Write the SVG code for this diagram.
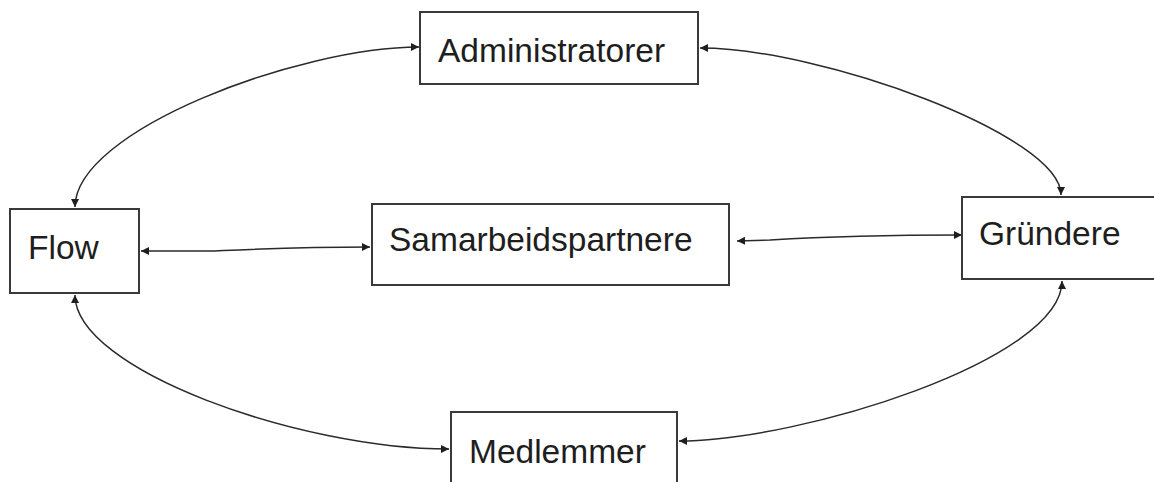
<svg xmlns="http://www.w3.org/2000/svg" width="1154" height="482" viewBox="0 0 1154 482">
<style>
.box{fill:#fff;stroke:#3a3a3a;stroke-width:2}
.lbl{font-family:"Liberation Sans",Arial,sans-serif;font-size:33.5px;fill:#1e1e1e}
.con{fill:none;stroke:#2a2a2a;stroke-width:1.5}
</style>
<defs>
<marker id="ah" viewBox="0 0 10 10" refX="10" refY="5" markerWidth="9" markerHeight="8" markerUnits="userSpaceOnUse" orient="auto-start-reverse">
<path d="M0,0 L10,5 L0,10 z" fill="#1e1e1e"/>
</marker>
</defs>
<rect width="1154" height="482" fill="#fff"/>
<g id="connectors">
<path class="con" d="M419,47 C300,47 75,130 75,207" marker-start="url(#ah)" marker-end="url(#ah)"/>
<path class="con" d="M700,48 C820,48 1061,135 1061,195" marker-start="url(#ah)" marker-end="url(#ah)"/>
<path class="con" d="M75,295 C75,370 300,449 449,449" marker-start="url(#ah)" marker-end="url(#ah)"/>
<path class="con" d="M679,441 C800,441 1062,360 1062,281" marker-start="url(#ah)" marker-end="url(#ah)"/>
<path class="con" d="M141,251 L215,251 C260,249 300,247 370,247" marker-start="url(#ah)" marker-end="url(#ah)"/>
<path class="con" d="M737,241 L770,240 C820,237 880,235 962,235" marker-start="url(#ah)" marker-end="url(#ah)"/>
</g>
<g id="administratorer">
<rect class="box" x="420" y="12" width="278" height="72"/>
<text class="lbl" x="438" y="62">Administratorer</text>
</g>
<g id="flow">
<rect class="box" x="10" y="209" width="129" height="84"/>
<text class="lbl" x="28" y="259">Flow</text>
</g>
<g id="samarbeidspartnere">
<rect class="box" x="372" y="204" width="357" height="81"/>
<text class="lbl" x="389" y="251">Samarbeidspartnere</text>
</g>
<g id="grundere">
<rect class="box" x="962" y="197" width="200" height="82"/>
<text class="lbl" x="979" y="245">Gründere</text>
</g>
<g id="medlemmer">
<rect class="box" x="451" y="412" width="226" height="80"/>
<text class="lbl" x="469" y="463">Medlemmer</text>
</g>
</svg>
